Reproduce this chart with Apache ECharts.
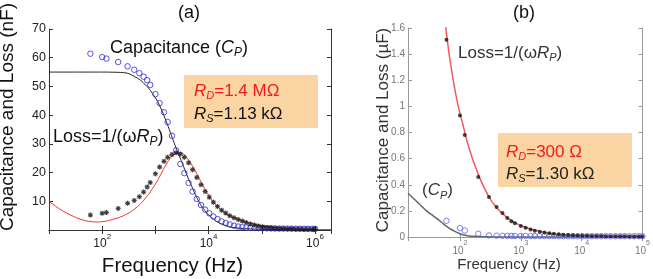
<!DOCTYPE html>
<html><head><meta charset="utf-8">
<script src="https://cdn.jsdelivr.net/npm/echarts@6/dist/echarts.min.js"></script>
<style>html,body{margin:0;padding:0;background:#fff}#c{width:653px;height:279px}</style>
</head><body><div id="c"></div>
<script>
// ---- Panel (a) data ----
const fitFreqA = [10,16,25,40,63,79,100,158,251,398,631,1000,1259,1585,1995,2512,2818,3162,3981,5012,6310,7943,10000,12589,15849,19953,25119,39811,63096,100000,199526,398107,1000000,2000000];
const capFitA  = [55.0,55.0,55.0,55.0,55.0,55.0,55.0,54.95,54.8,53.5,50.8,46.0,42.5,38.0,33.0,28.0,25.7,23.5,18.8,14.5,10.5,7.5,5.3,3.7,2.5,1.7,1.1,0.6,0.35,0.2,0.1,0.05,0.02,0.01];
const lossFitA = [10.0,7.3,5.3,3.7,2.9,2.8,2.9,3.7,5.0,7.2,10.8,16.0,19.3,22.8,25.4,26.7,26.9,26.7,25.0,22.2,18.8,15.3,12.2,9.6,7.6,6.0,4.9,3.4,2.3,1.5,0.8,0.4,0.2,0.1];
const freqA = [60,100,120,200,300,400,500,600,700,800,1000,1200,1450,1700,2050,2450,2950,3500,4200,5000,6000,7200,8600,10300,12300,14700,17600,21000,25000,30000,36000,43000,51000,61000,73000,87000,104000,125000,149000,178000,213000,255000,305000,365000,436000,520000,620000,740000,890000,1000000];
const capA  = [61.4,60.2,59.7,58.5,57.0,55.8,54.6,53.4,52.2,50.5,47.3,44.2,41.0,37.6,32.8,27.7,23.0,19.8,16.4,13.4,10.8,8.7,7.1,5.8,4.7,3.8,3.0,2.4,1.9,1.5,1.2,1.0,0.85,0.75,0.7,0.65,0.6,0.58,0.55,0.53,0.5,0.5,0.48,0.47,0.45,0.45,0.44,0.43,0.42,0.42];
const lossA = [5.2,5.8,6.1,7.5,9.3,10.3,11.6,13.2,15.0,16.5,19.6,21.9,23.9,25.3,26.3,26.9,26.5,25.3,23.4,21.0,18.3,15.8,13.4,11.4,9.7,8.2,6.9,5.9,5.0,4.3,3.7,3.1,2.6,2.1,1.7,1.4,1.1,0.9,0.75,0.65,0.55,0.5,0.45,0.4,0.35,0.32,0.3,0.28,0.25,0.25];
// ---- Panel (b) data ----
const lossFitFreqB = [58,63,71,89,112,141,200,282,398,631,1000,1585,3162,6310,15849,39811,100000];
const lossFitB     = [1.62,1.48,1.31,1.05,0.86,0.68,0.48,0.33,0.225,0.14,0.088,0.055,0.027,0.014,0.007,0.004,0.003];
const capFitFreqB  = [14,22.4,28.2,37.2,47.9,60.3,79.4,100,126,166,251,398,1000,100000];
const capFitB      = [0.335,0.245,0.2,0.158,0.12,0.081,0.047,0.025,0.012,0.005,0.001,0,0,0];
const freqB = [60,100,120,200,300,400,500,600,700,800,1000,1200,1450,1700,2050,2450,2950,3500,4200,5000,6000,7200,8600,10300,12300,14700,17600,21000,25000,30000,36000,43000,51000,61000,73000,87000,100000];
const lossB = [1.51,0.93,0.78,0.46,0.306,0.23,0.184,0.145,0.12,0.105,0.085,0.07,0.058,0.048,0.04,0.034,0.029,0.025,0.021,0.018,0.015,0.013,0.011,0.01,0.009,0.008,0.007,0.007,0.006,0.006,0.005,0.005,0.005,0.004,0.004,0.004,0.004];
const capB  = [0.124,0.068,0.05,0.025,0.012,0.01,0.009,0.009,0.008,0.008,0.008,0.008,0.007,0.007,0.007,0.007,0.007,0.007,0.006,0.006,0.006,0.006,0.006,0.006,0.006,0.006,0.006,0.006,0.006,0.006,0.006,0.006,0.006,0.006,0.006,0.006,0.006];

const zip = (xs, ys) => xs.map((x, i) => [x, ys[i]]);
const FF = 'Liberation Sans, Arial, Helvetica, sans-serif';
const STAR = 'path://M0,3.8L10,3.8L10,6.2L0,6.2Z M3.8,0L6.2,0L6.2,10L3.8,10Z M1.8,0.5L9.5,8.2L8.2,9.5L0.5,1.8Z M8.2,0.5L9.5,1.8L1.8,9.5L0.5,8.2Z';

function logLabel(size, supSize, color, onlyEven) {
  return {
    show: true, margin: 3, showMinLabel: true, showMaxLabel: true,
    formatter: v => {
      const l = Math.log10(v), e = Math.round(l);
      if (Math.abs(l - e) > 0.01) return '';
      if (onlyEven && e % 2 !== 0) return '';
      return '{b|10}{s|' + e + '}';
    },
    rich: {
      b: { fontSize: size, fontFamily: FF, color: color, lineHeight: 22 },
      s: { fontSize: supSize, fontFamily: FF, color: color, lineHeight: 8, verticalAlign: 'top' }
    }
  };
}
function xAx(grid, min, max, color, label, pos) {
  return {
    type: 'log', logBase: 10, gridIndex: grid, min: min, max: max, position: pos,
    axisLine: { show: true, lineStyle: { color: color, width: 1 } },
    axisTick: { show: true, inside: true, length: 4, lineStyle: { color: color } },
    axisLabel: label || { show: false },
    splitLine: { show: false }, minorTick: { show: false }
  };
}
function yAx(grid, min, max, interval, color, label, pos) {
  return {
    type: 'value', gridIndex: grid, min: min, max: max, interval: interval, position: pos,
    axisLine: { show: true, lineStyle: { color: color, width: 1 } },
    axisTick: { show: true, inside: true, length: 4, lineStyle: { color: color } },
    axisLabel: label || { show: false },
    splitLine: { show: false }
  };
}
function rt(x, y, text, size, color, opt) {
  opt = opt || {};
  const sub = Math.round(size * 0.65);
  return {
    type: 'text', x: x, y: y, rotation: opt.rot || 0, z: 100,
    style: {
      text: text, align: opt.align || 'left', verticalAlign: 'middle',
      fontSize: size, fontFamily: FF, fill: color,
      rich: {
        n: { fontSize: size, fontFamily: FF, fill: color, lineHeight: size + 4 },
        i: { fontSize: size, fontFamily: FF, fill: color, fontStyle: 'italic', lineHeight: size + 4 },
        s: { fontSize: sub, fontFamily: FF, fill: color, fontStyle: 'italic', lineHeight: sub, verticalAlign: 'bottom' },
        r: { fontSize: size, fontFamily: FF, fill: '#ee1c1c', fontStyle: 'italic', lineHeight: size + 4 },
        rs: { fontSize: sub, fontFamily: FF, fill: '#ee1c1c', fontStyle: 'italic', lineHeight: sub, verticalAlign: 'bottom' },
        rn: { fontSize: size, fontFamily: FF, fill: '#ee1c1c', lineHeight: size + 4 }
      }
    }
  };
}

const cA = '#333', cB = '#999';
const option = {
  animation: false,
  backgroundColor: '#fff',
  grid: [
    { left: 49, top: 29, width: 282, height: 201, show: false },
    { left: 408, top: 28, width: 237, height: 209, show: false }
  ],
  xAxis: [
    xAx(0, 10, 2000000, cA, logLabel(12, 8, '#222', true), 'bottom'),
    xAx(0, 10, 2000000, cA, null, 'top'),
    xAx(1, 14, 100000, cB, logLabel(10, 7, '#777', false), 'bottom'),
    xAx(1, 14, 100000, cB, null, 'top')
  ],
  yAxis: [
    yAx(0, 0, 70, 10, cA, { show: true, margin: 3, fontSize: 12.5, fontFamily: FF, color: '#222', formatter: v => v === 0 ? '' : String(v) }, 'left'),
    yAx(0, 0, 70, 10, cA, null, 'right'),
    yAx(1, 0, 1.6, 0.2, cB, { show: true, margin: 3, fontSize: 10, fontFamily: FF, color: '#777', formatter: v => String(parseFloat(v.toFixed(1))) }, 'left'),
    yAx(1, 0, 1.6, 0.2, cB, null, 'right')
  ],
  graphic: [
    { type: 'rect', shape: { x: 184, y: 75, width: 134, height: 53 }, style: { fill: '#fad4a2' }, z: 50 },
    { type: 'rect', shape: { x: 498, y: 133, width: 134, height: 54 }, style: { fill: '#fad4a2' }, z: 50 },
    rt(189, 13.5, '(a)', 18, '#111', { align: 'center' }),
    rt(524, 13.5, '(b)', 18, '#111', { align: 'center' }),
    rt(110, 48, '{n|Capacitance (}{i|C}{s|P}{n|)}', 18, '#111'),
    rt(53, 137, '{n|Loss=1/(ω}{i|R}{s|P}{n|)}', 18, '#111'),
    rt(194, 91, '{r|R}{rs|D}{rn|=1.4 MΩ}', 17, '#111'),
    rt(194, 114, '{i|R}{s|S}{n|=1.13 kΩ}', 17, '#111'),
    rt(458, 53, '{n|Loss=1/(ω}{i|R}{s|P}{n|)}', 17, '#333'),
    rt(422, 190.5, '{n|(}{i|C}{s|P}{n|)}', 17, '#333'),
    rt(506, 152, '{r|R}{rs|D}{rn|=300 Ω}', 17, '#333'),
    rt(506, 174, '{i|R}{s|S}{n|=1.30 kΩ}', 17, '#222'),
    { type: 'text', x: 8, y: 117, rotation: Math.PI / 2, z: 100,
      style: { text: 'Capacitance and Loss (nF)', align: 'center', verticalAlign: 'middle', fontSize: 19, fontFamily: FF, fill: '#111' } },
    { type: 'text', x: 383, y: 130, rotation: Math.PI / 2, z: 100,
      style: { text: 'Capacitance and Loss (µF)', align: 'center', verticalAlign: 'middle', fontSize: 17, fontFamily: FF, fill: '#333' } },
    { type: 'text', x: 172.5, y: 266, z: 100,
      style: { text: 'Frequency (Hz)', align: 'center', verticalAlign: 'middle', fontSize: 20.5, fontFamily: FF, fill: '#111' } },
    { type: 'text', x: 509, y: 265, z: 100,
      style: { text: 'Frequency (Hz)', align: 'center', verticalAlign: 'middle', fontSize: 15, fontFamily: FF, fill: '#333' } }
  ],
  series: [
    { type: 'line', xAxisIndex: 0, yAxisIndex: 0, data: zip(fitFreqA, capFitA), symbol: 'none', smooth: 0.5, lineStyle: { color: '#222', width: 1 }, z: 3 },
    { type: 'line', xAxisIndex: 0, yAxisIndex: 0, data: zip(fitFreqA, lossFitA), symbol: 'none', smooth: 0.5, lineStyle: { color: '#e8352e', width: 1 }, z: 3 },
    { type: 'scatter', xAxisIndex: 0, yAxisIndex: 0, data: zip(freqA, capA), symbol: 'circle', symbolSize: 5.5, itemStyle: { color: 'rgba(0,0,0,0)', borderColor: '#2b2bd6', borderWidth: 1 }, z: 4 },
    { type: 'scatter', xAxisIndex: 0, yAxisIndex: 0, data: zip(freqA, lossA), symbol: STAR, symbolSize: 5, itemStyle: { color: '#111' }, z: 5 },
    { type: 'line', xAxisIndex: 2, yAxisIndex: 2, data: zip(capFitFreqB, capFitB), symbol: 'none', smooth: 0.5, lineStyle: { color: '#666', width: 1.5 }, z: 3 },
    { type: 'line', xAxisIndex: 2, yAxisIndex: 2, data: zip(lossFitFreqB, lossFitB), symbol: 'none', smooth: 0.5, clip: true, lineStyle: { color: '#f05a5a', width: 1.5 }, z: 3 },
    { type: 'scatter', xAxisIndex: 2, yAxisIndex: 2, data: zip(freqB, capB), symbol: 'circle', symbolSize: 5.5, itemStyle: { color: 'rgba(0,0,0,0)', borderColor: '#5a64e6', borderWidth: 1 }, z: 4 },
    { type: 'scatter', xAxisIndex: 2, yAxisIndex: 2, data: zip(freqB, lossB), symbol: 'circle', symbolSize: 4, itemStyle: { color: '#151515' }, z: 5 }
  ]
};
const chart = echarts.init(document.getElementById('c'), null, { renderer: 'canvas' });
chart.setOption(option);
</script>
</body></html>
